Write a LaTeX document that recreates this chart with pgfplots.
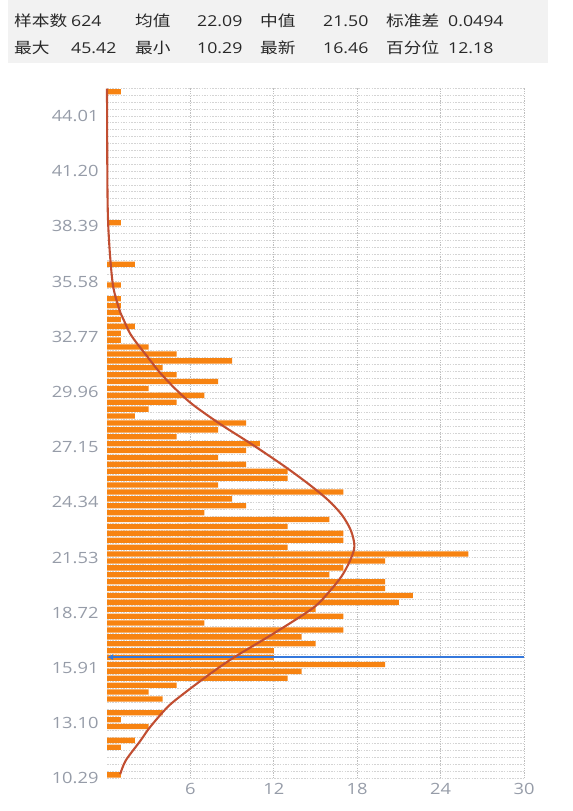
\documentclass[border=0pt]{standalone}
\usepackage{fontspec}
\setmainfont{Open Sans}
\newfontfamily\cjk{Noto Sans CJK SC}
\usepackage{graphicx}
\usepackage{pgfplots}
\pgfplotsset{compat=1.18}
\usetikzlibrary{arrows.meta}
\definecolor{barc}{RGB}{247,131,17}
\definecolor{curvec}{RGB}{193,78,50}
\definecolor{bluec}{RGB}{52,120,220}
\definecolor{tickc}{RGB}{150,156,168}
\definecolor{hdrbg}{RGB}{242,242,242}
\definecolor{hdrtx}{RGB}{40,40,40}
\definecolor{hgrid}{RGB}{212,212,212}
\definecolor{vgrid}{RGB}{190,190,190}
\newcommand\sx[1]{\scalebox{1.18}[1]{#1}}
\pgfplotstableread{
y c
10.466 1
11.871 1
12.222 2
12.925 3
13.276 1
13.627 4
14.330 4
14.681 3
15.032 5
15.384 13
15.735 14
16.086 20
16.437 12
16.789 12
17.140 15
17.492 14
17.843 17
18.194 7
18.546 17
18.897 15
19.248 21
19.599 22
19.951 20
20.302 20
20.653 16
21.005 17
21.356 20
21.707 26
22.059 13
22.410 17
22.761 17
23.112 13
23.464 16
23.815 7
24.166 10
24.518 9
24.869 17
25.220 8
25.572 13
25.923 13
26.274 10
26.625 8
26.977 10
27.328 11
27.679 5
28.031 8
28.382 10
28.733 2
29.085 3
29.436 5
29.787 7
30.138 3
30.490 8
30.841 5
31.192 4
31.544 9
31.895 5
32.246 3
32.598 1
32.949 1
33.300 2
33.651 1
34.003 1
34.354 1
34.705 1
35.408 1
36.462 2
38.570 1
45.244 1
}\bins
\begin{document}
\begin{tikzpicture}[x=1bp,y=1bp]
\useasboundingbox (0,0) rectangle (573,-811);
\fill[hdrbg] (8,0) rectangle (548,-63);
\begin{scope}[every node/.style={inner sep=0,anchor=base west,text=hdrtx,font=\fontsize{15bp}{18bp}\selectfont}]
\node at (14,-26.3) {\sx{\cjk 样本数}};
\node at (71,-26.3) {\sx{624}};
\node at (135,-26.3) {\sx{\cjk 均值}};
\node at (197,-26.3) {\sx{22.09}};
\node at (260,-26.3) {\sx{\cjk 中值}};
\node at (323,-26.3) {\sx{21.50}};
\node at (386,-26.3) {\sx{\cjk 标准差}};
\node at (448,-26.3) {\sx{0.0494}};
\node at (14,-54) {\sx{\cjk 最大}};
\node at (71,-54) {\sx{45.42}};
\node at (135,-54) {\sx{\cjk 最小}};
\node at (197,-54) {\sx{10.29}};
\node at (260,-54) {\sx{\cjk 最新}};
\node at (323,-54) {\sx{16.46}};
\node at (386,-54) {\sx{\cjk 百分位}};
\node at (448,-54) {\sx{12.18}};
\end{scope}
\begin{axis}[
  at={(107bp,-778.3bp)}, anchor=south west,
  scale only axis, width=417bp, height=690bp,
  xmin=0, xmax=30, ymin=10.29, ymax=45.42,
  enlargelimits=false,
  axis line style={draw=none},
  major tick length=0, minor tick length=0,
  xtick={6,12,18,24,30},
  xticklabels={\sx{6},\sx{12},\sx{18},\sx{24},\sx{30}},
  ytick={10.29,13.1004,15.9108,18.7212,21.5316,24.342,27.1524,29.9628,32.7732,35.5836,38.394,41.2044,44.0148},
  yticklabels={\sx{10.29},\sx{13.10},\sx{15.91},\sx{18.72},\sx{21.53},\sx{24.34},\sx{27.15},\sx{29.96},\sx{32.77},\sx{35.58},\sx{38.39},\sx{41.20},\sx{44.01}},
  minor ytick={10.29,10.6413,...,45.5},
  xmajorgrids, ymajorgrids, yminorgrids,
  major x grid style={vgrid, line width=0.9bp, dash pattern=on 1.2bp off 1.2bp},
  major y grid style={hgrid, line width=0.7bp, dash pattern=on 1.5bp off 1.2bp},
  minor y grid style={hgrid, line width=0.7bp, dash pattern=on 1.5bp off 1.2bp},
  tick label style={font=\fontsize{15.5bp}{18bp}\selectfont, text=tickc},
  yticklabel style={xshift=-5bp},
  xticklabel style={yshift=-1bp},
  clip=false,
]
\addplot[xbar, bar width=0.27, fill=barc, draw=none] table[x=c, y=y] {\bins};
\addplot[draw=bluec, line width=1.5bp, {Latex[length=6bp,width=6bp]}-] coordinates {(0,16.46) (30,16.46)};
\addplot[curvec, line width=2.1bp, smooth, tension=0.5] coordinates {
(0.95,10.5) (1.35,11.2) (2.4,12.2) (3.1,12.9) (4.4,13.95) (5.7,14.7) (7.4,15.6)
(9.1,16.43) (12.0,17.67) (14.8,18.95) (16.0,19.8) (16.9,20.6) (17.5,21.4)
(17.8,22.1) (17.55,22.9) (16.9,23.7) (15.9,24.46) (14.6,25.22) (12.8,26.16)
(10.5,27.26) (8.2,28.3) (6.2,29.3) (5.0,30.06) (3.85,30.91) (2.9,31.76)
(2.15,32.44) (1.65,32.95) (1.2,33.63) (0.9,34.13) (0.45,35.3) (0.22,36.9)
(0.08,38.6) (0.03,40.5) (0.0,45.4)};
\end{axis}
\end{tikzpicture}
\end{document}
